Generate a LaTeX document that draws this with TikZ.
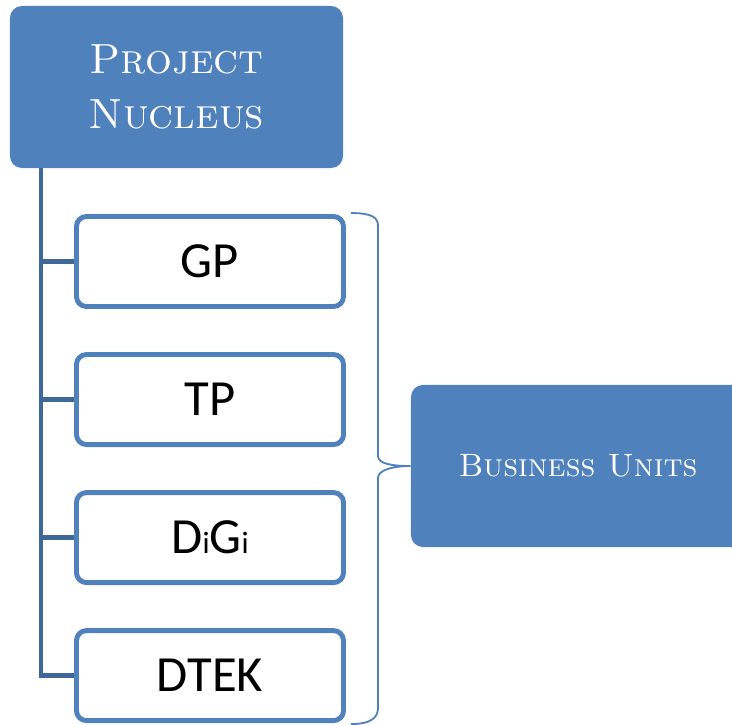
\documentclass[tikz,border=0pt]{standalone}
\usepackage{fontspec}
\usepackage{tikz}
\newfontfamily\unitfont{Carlito}
\usetikzlibrary{positioning}

\definecolor{nucleusblue}{RGB}{79,129,189}
\definecolor{trunkblue}{RGB}{62,104,152}
\newcommand{\smalli}{{\fontsize{22}{24}\selectfont i}}

\begin{document}
\begin{tikzpicture}[x=0.025cm, y=-0.025cm, every node/.style={inner sep=0pt},
    headbox/.style={rectangle, rounded corners=0.3cm, fill=nucleusblue, text=white, align=center},
    unitbox/.style={rectangle, rounded corners=0.25cm, draw=nucleusblue, line width=3.5pt, fill=white,
        minimum width=6.675cm, minimum height=2.25cm, font=\unitfont\fontsize{36}{40}\selectfont},
    trunk/.style={draw=trunkblue, line width=3.5pt},
    bracket/.style={draw=nucleusblue, line width=1.3pt}]
    \useasboundingbox (0,0) rectangle (732,725);

    \node (nucleus) [headbox, minimum width=8.325cm, minimum height=4.05cm,
        font=\fontsize{30}{39}\selectfont\scshape] at (176.5,87) {Project\\Nucleus};
    \node (gp) [unitbox] at (210,261.5) {GP};
    \node (tp) [unitbox, below=1.077cm of gp] {TP};
    \node (digi) [unitbox, below=1.077cm of tp] {D\smalli G\smalli};
    \node (dtek) [unitbox, below=1.077cm of digi] {DTEK};
    \node (units) [headbox, minimum width=8.35cm, minimum height=4.05cm,
        font=\fontsize{23}{28}\selectfont\scshape] at (578,466) {Business Units};

    % tree lines
    \coordinate (root) at (41,168);
    \draw[trunk] (root) |- (dtek.west);
    \foreach \u in {gp, tp, digi}
        \draw[trunk] (root) |- (\u.west);

    % brace round the units
    \coordinate (btop) at ([shift={(5,-1)}]gp.north east);
    \coordinate (bbot) at ([shift={(5,1)}]dtek.south east);
    \draw[bracket] (btop) .. controls +(22,0) and +(0,-8) .. (378,226) -- (378,456)
        .. controls +(0,8) and +(-18,0) .. (units.west)
        .. controls +(-18,0) and +(0,-8) .. (378,478) -- (378,708)
        .. controls +(0,8) and +(22,0) .. (bbot);
\end{tikzpicture}
\end{document}
